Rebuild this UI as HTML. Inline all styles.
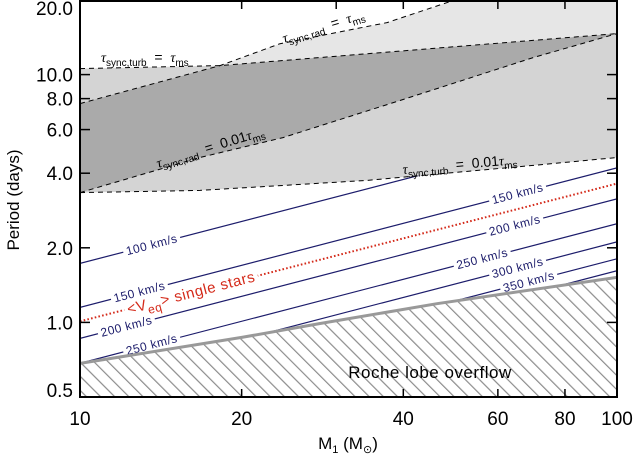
<!DOCTYPE html>
<html><head><meta charset="utf-8"><style>
html,body{margin:0;padding:0;background:#fff;}
svg{display:block;font-family:"Liberation Sans",Helvetica,Arial,sans-serif;}
</style></head><body>
<svg id="chart" width="634" height="454" viewBox="0 0 634 454" xmlns="http://www.w3.org/2000/svg">
<defs>
<clipPath id="plotclip"><rect x="80" y="0" width="537" height="397"/></clipPath>
<pattern id="hatch" patternUnits="userSpaceOnUse" width="10" height="10" patternTransform="rotate(-45)">
<line x1="0" y1="0" x2="0" y2="10" stroke="#8c8c8c" stroke-width="2.4"/>
</pattern>
</defs>
<rect x="0" y="0" width="634" height="454" fill="#fff"/>
<g id="plot" clip-path="url(#plotclip)"></g>
<g id="labels"></g>
<g id="axes"></g>
</svg>
<script>
// ---- data ----
const velocities = [100, 150, 200, 250, 300, 350, 400];
const velP10 = [1.73, 1.15, 0.862, 0.684, 0.578, 0.494, 0.442];
const velSlope = 0.563;
const redP10 = 1.01;
const redSlope = 0.556;
const radMsM = [10, 18.23, 23.57, 37.3, 49.5, 60];
const radMsP = [7.64, 10.87, 13.33, 16.21, 19.88, 25];
const turbMsM = [10, 18.23, 100];
const turbMsP = [10.57, 10.87, 14.63];
const rad001M = [10, 16.73, 23.88, 39.44, 69.8, 100];
const rad001P = [3.34, 4.63, 5.57, 7.86, 11.71, 14.63];
const turb001M = [10, 16.73, 34.23, 69.8, 100];
const turb001P = [3.34, 3.41, 3.74, 4.30, 4.63];
const rlofM = [10, 20, 28, 46.2, 100];
const rlofP = [0.683, 0.87, 0.99, 1.19, 1.52];
const xTickVals = [10, 20, 40, 60, 80, 100];
const xTickLabels = ["10", "20", "40", "60", "80", "100"];
const yTickVals = [0.5, 1, 2, 4, 6, 8, 10, 20];
const yTickLabels = ["0.5", "1.0", "2.0", "4.0", "6.0", "8.0", "10.0", "20.0"];
const velLabelLeftM = [13.6, 12.9, 12.2, 13.6, null, null, null];
const velLabelRightM = [null, 65.3, 64.5, 56.1, 65.3, 68.5, null];

// ---- axis functions ----
const X0 = 80, X1 = 617, Y0 = 397, Y1 = 0;
const xMin = 10, xMax = 100, yMin = 0.5, yMax = 20;
function xs(m){ return X0 + (Math.log10(m) - Math.log10(xMin)) / (Math.log10(xMax) - Math.log10(xMin)) * (X1 - X0); }
function ys(p){ return Y0 - (Math.log10(p) - Math.log10(yMin)) / (Math.log10(yMax) - Math.log10(yMin)) * (Y0 - Y1); }

const NS = "http://www.w3.org/2000/svg";
function mk(tag, attrs, parent){ const e = document.createElementNS(NS, tag); for (const k in attrs) e.setAttribute(k, attrs[k]); parent.appendChild(e); return e; }
function pts(M, P){ return M.map((m,i)=>[xs(m), ys(P[i])]); }
function str(a){ return a.map(p=>p[0].toFixed(1)+","+p[1].toFixed(1)).join(" "); }

const plot = document.getElementById('plot');
const labels = document.getElementById('labels');
const axes = document.getElementById('axes');

// velocity lines
velocities.forEach((v,i)=>{
  const l = mk('line', {x1: xs(10), y1: ys(velP10[i]), x2: xs(100), y2: ys(velP10[i]*Math.pow(10, velSlope)), stroke:'#1c1c6b', 'stroke-width':1.2}, plot);
  
  
});
const red = mk('line', {x1: xs(10), y1: ys(redP10), x2: xs(100), y2: ys(redP10*Math.pow(10, redSlope)), stroke:'#d42a1a', 'stroke-width':2, 'stroke-dasharray':'1.6,2.2'}, plot);



// velocity labels (drawn in plot, below shading)
const ang = -Math.atan(velSlope * ((Y0-Y1)/Math.log10(yMax/yMin)) / ((X1-X0)/Math.log10(xMax/xMin))) * 180/Math.PI;
function velLabel(m, i){
  const x = xs(m), y = ys(velP10[i]*Math.pow(m/10, velSlope));
  const g = mk('g', {transform:`rotate(${ang} ${x} ${y})`}, labels);
  
  
  const bg = mk('rect', {x: x-30, y: y-5, width: 60, height: 10, fill:'#fff'}, g);
  const t = mk('text', {x: x, y: y+4, 'text-anchor':'middle', 'font-size':12, 'letter-spacing':0.5, fill:'#1c1c6b'}, g);
  t.textContent = velocities[i] + ' km/s';
  const w = t.getComputedTextLength ? t.getComputedTextLength() : 58;
  bg.setAttribute('x', x - w/2 - 3);
  bg.setAttribute('width', w + 6);
}
velocities.forEach((v,i)=>{ if (velLabelLeftM[i]) velLabel(velLabelLeftM[i], i); if (velLabelRightM[i]) velLabel(velLabelRightM[i], i); });
{
  const m = 16.1, x = xs(m), y = ys(redP10*Math.pow(m/10, redSlope));
  const g = mk('g', {transform:`rotate(${ang} ${x} ${y})`}, labels);
  
  
  const bg = mk('rect', {x: x-65, y: y-6, width: 130, height: 12, fill:'#fff'}, g);
  const t = mk('text', {x: x, y: y+5, 'text-anchor':'middle', 'font-size':15, 'letter-spacing':0.6, fill:'#d42a1a'}, g);
  t.innerHTML = '&lt;V<tspan font-size="12" dy="5">eq</tspan><tspan dy="-5">&gt; single stars</tspan>';
  const w = t.getComputedTextLength ? t.getComputedTextLength() : 128;
  bg.setAttribute('x', x - w/2 - 3);
  bg.setAttribute('width', w + 6);
}

// shaded regions
const turbMs = pts(turbMsM, turbMsP), radMs = pts(radMsM, radMsP), rad001 = pts(rad001M, rad001P), turb001 = pts(turb001M, turb001P);
const shade = mk('g', {'clip-path':'url(#plotclip)'}, labels);
const mid = turbMs.concat(turb001.slice().reverse());
const midPoly = mk('polygon', {points: str(mid), fill:'#d4d4d4'}, shade);


const lightPts = radMs.slice(1).concat([[X1+5, radMs[radMs.length-1][1]], [X1+5, turbMs[2][1]]]).concat(turbMs.slice(1).reverse());
const lightPoly = mk('polygon', {points: str(lightPts), fill:'#e6e6e6'}, shade);


const darkUpper = [radMs[0], radMs[1]].concat(turbMs.slice(2));
const darkPts = darkUpper.concat(rad001.slice().reverse());
const darkPoly = mk('polygon', {points: str(darkPts), fill:'#aaaaaa'}, shade);


[[turbMs,'turb-ms-line'],[radMs,'rad-ms-line'],[rad001,'rad-001-line'],[turb001,'turb-001-line']].forEach(([p,n])=>{
  const e = mk('polyline', {points: str(p), fill:'none', stroke:'#000', 'stroke-width':1, 'stroke-dasharray':'5,4'}, shade);
  
  
});

// RLOF hatched region
const rl = pts(rlofM, rlofP);
const hatchPts = rl.concat([[X1+5, Y0+5], [X0-5, Y0+5]]);
const hw = mk('polygon', {points: str(hatchPts), fill:'#fff'}, shade);


const hp = mk('polygon', {points: str(hatchPts), fill:'url(#hatch)'}, shade);


const rlLine = mk('polyline', {points: str(rl), fill:'none', stroke:'#999', 'stroke-width':3}, shade);



function tau(x, y, sub, rhs, rot, name){
  const t = mk('text', {x:x, y:y, 'font-size':14, fill:'#000', transform:`rotate(${rot} ${x} ${y})`}, labels);
  t.innerHTML = '<tspan font-style="italic" font-family="Liberation Serif, serif">τ</tspan><tspan font-size="10" dy="4">' + sub + '</tspan><tspan dy="-4">\u00a0\u00a0=\u00a0\u00a0' + rhs + '</tspan><tspan font-style="italic" font-family="Liberation Serif, serif">τ</tspan><tspan font-size="10" dy="4">ms</tspan>';
  
  
}
tau(101, 62, 'sync,turb', '', 0, 'label-turb-ms');
tau(284, 43, 'sync,rad', '', -17, 'label-rad-ms');
tau(158, 168, 'sync,rad', '0.01', -17, 'label-rad-001');
tau(403, 174, 'sync,turb', '0.01', -5, 'label-turb-001');
const rt = mk('text', {x:430, y:378, 'text-anchor':'middle', 'font-size':17, 'letter-spacing':0.5, fill:'#000'}, labels);
rt.textContent = 'Roche lobe overflow';



// axes frame
const fr = mk('rect', {x:80, y:1, width:537, height:396, fill:'none', stroke:'#000', 'stroke-width':2}, axes);


xTickVals.forEach((v,i)=>{
  const x = xs(v);
  mk('line', {x1:x, y1:397, x2:x, y2:389, stroke:'#000', 'stroke-width':1.5}, axes);
  mk('line', {x1:x, y1:1, x2:x, y2:9, stroke:'#000', 'stroke-width':1.5}, axes);
  const t = mk('text', {x: x, y: 425, 'text-anchor':'middle', 'font-size':19, fill:'#000'}, axes);
  t.textContent = xTickLabels[i];
  
  
});
{ const x = xs(30); mk('line', {x1:x, y1:1, x2:x, y2:9, stroke:'#000', 'stroke-width':1.5}, axes); }
yTickVals.forEach((v,i)=>{
  const y = ys(v);
  mk('line', {x1:80, y1:y, x2:90, y2:y, stroke:'#000', 'stroke-width':1.5}, axes);
  mk('line', {x1:617, y1:y, x2:607, y2:y, stroke:'#000', 'stroke-width':1.5}, axes);
  const t = mk('text', {x: 73, y: Math.min(Math.max(y + 7, 15), 397), 'text-anchor':'end', 'font-size':19, fill:'#000'}, axes);
  t.textContent = yTickLabels[i];
  
  
});
const xt = mk('text', {x:348, y:449, 'text-anchor':'middle', 'font-size':17, fill:'#000'}, axes);
xt.innerHTML = 'M<tspan font-size="11" dy="4">1</tspan><tspan dy="-4"> (M</tspan><tspan font-size="11" dy="4">⊙</tspan><tspan dy="-4">)</tspan>';


const yt = mk('text', {x:19, y:200, 'text-anchor':'middle', 'font-size':17, fill:'#000', transform:'rotate(-90 19 200)'}, axes);
yt.textContent = 'Period (days)';


</script>
</body></html>
